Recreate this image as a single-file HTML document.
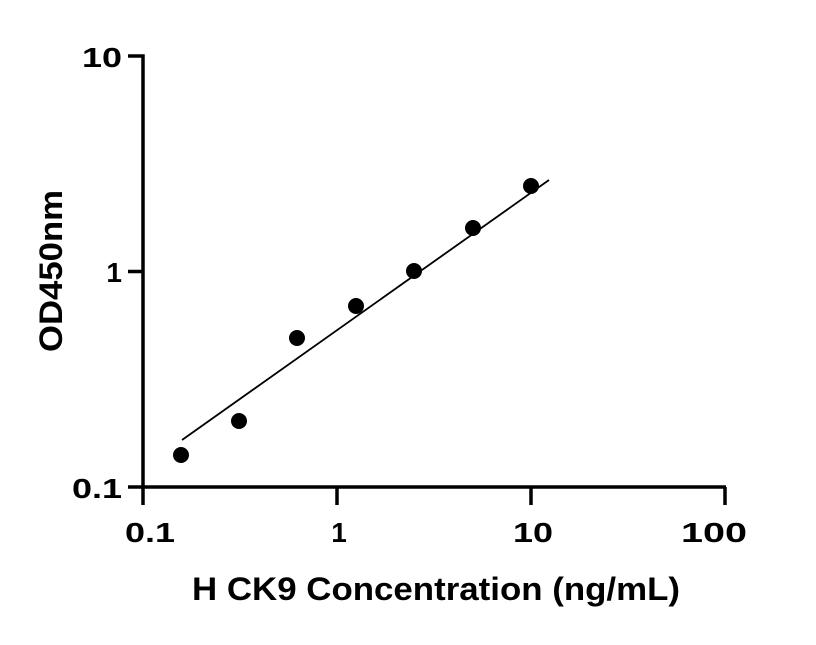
<!DOCTYPE html>
<html><head><style>body{margin:0;background:#fff}</style></head><body>
<svg width="816" height="640" xmlns="http://www.w3.org/2000/svg" font-family="Liberation Sans, sans-serif" font-weight="bold">
<g stroke="#000" stroke-width="3.5" fill="none">
<path d="M128,56 H143 V487 H726"/>
<path d="M128,271.5 H143 M128,487 H143"/>
<path d="M143,487 V505 M337,487 V505 M531,487 V505 M725,487 V505"/>
</g>
<line x1="182" y1="440" x2="549" y2="180" stroke="#000" stroke-width="1.8"/>
<g fill="#000">
<circle cx="181" cy="455" r="8"/><circle cx="239" cy="421" r="8"/><circle cx="297" cy="338" r="8"/>
<circle cx="356" cy="306" r="8"/><circle cx="414" cy="271" r="8"/><circle cx="473" cy="228" r="8"/><circle cx="531" cy="186" r="8"/>
</g>
<g font-size="28" text-anchor="end">
<text x="122" y="67" textLength="40" lengthAdjust="spacingAndGlyphs">10</text>
<text x="122" y="282">1</text>
<text x="122" y="498" textLength="50" lengthAdjust="spacingAndGlyphs">0.1</text>
</g>
<g font-size="28" text-anchor="middle">
<text x="150" y="542" textLength="50" lengthAdjust="spacingAndGlyphs">0.1</text>
<text x="339" y="542">1</text>
<text x="533" y="542" textLength="40" lengthAdjust="spacingAndGlyphs">10</text>
<text x="714" y="542" textLength="66" lengthAdjust="spacingAndGlyphs">100</text>
</g>
<text x="192" y="600" font-size="32" textLength="488" lengthAdjust="spacingAndGlyphs">H CK9 Concentration (ng/mL)</text>
<text transform="translate(62,352) rotate(-90)" font-size="32" textLength="162" lengthAdjust="spacingAndGlyphs">OD450nm</text>
</svg>
</body></html>
